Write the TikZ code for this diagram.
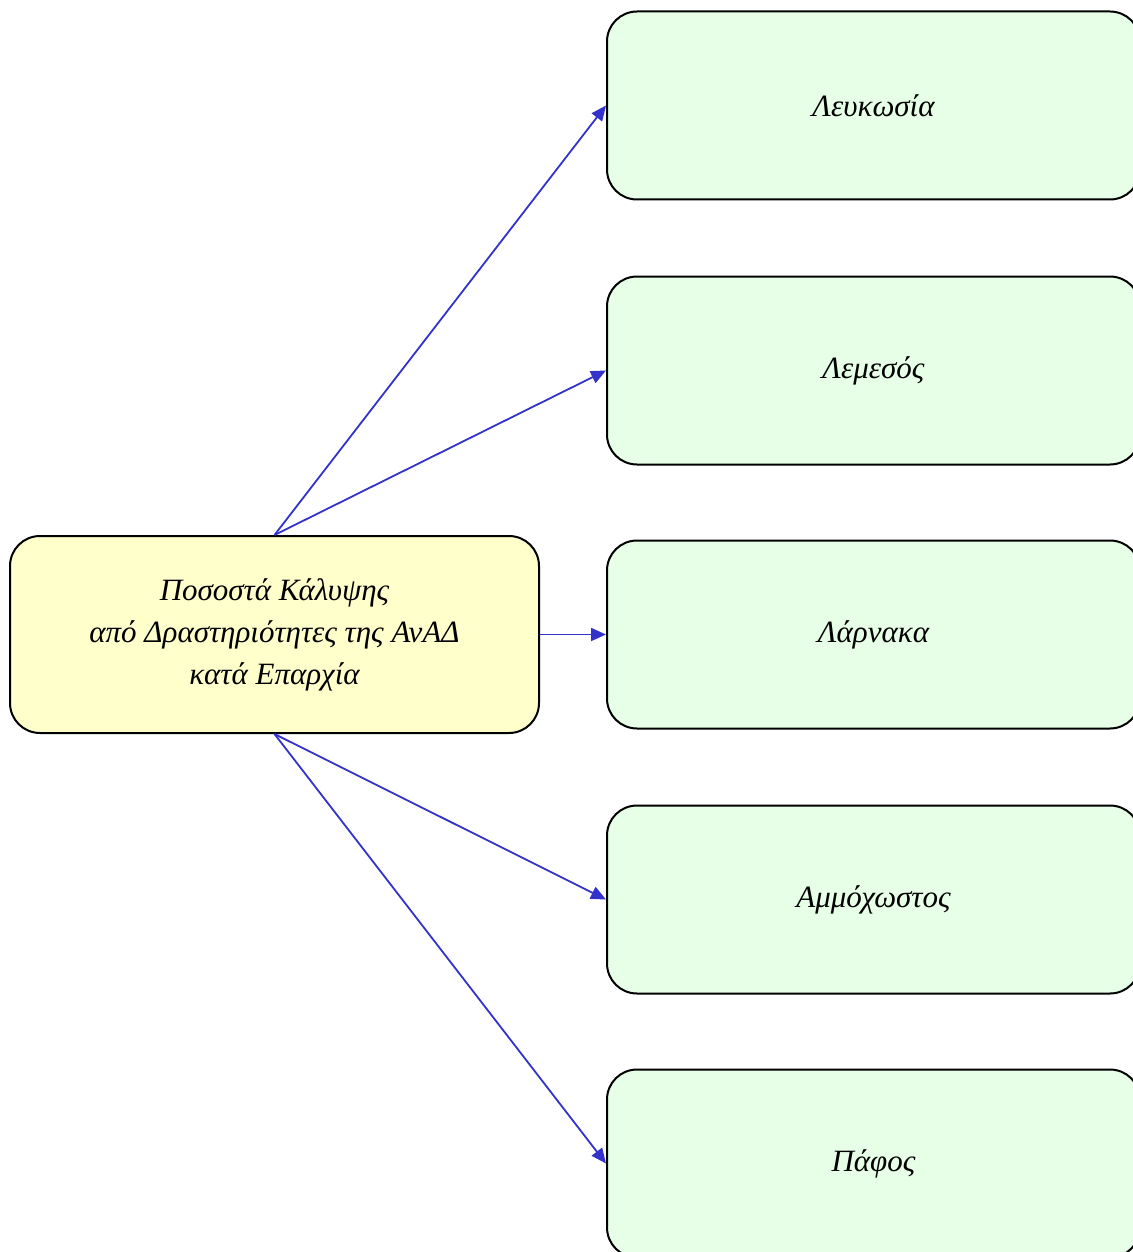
\documentclass[tikz,border=0pt]{standalone}
\usepackage{fontspec}
\setmainfont{Liberation Serif}
\usetikzlibrary{arrows.meta}
\definecolor{mainfill}{HTML}{FFFFCC}
\definecolor{subfill}{HTML}{E6FFE6}
\definecolor{arrowblue}{HTML}{3333CC}
\tikzset{
  box/.style={draw=black, line width=2pt, rounded corners=30pt, inner sep=0pt, align=center,
    font=\fontsize{31}{42}\selectfont\itshape},
  mainbox/.style={box, fill=mainfill, minimum width=529pt, minimum height=197pt},
  subbox/.style={box, fill=subfill, minimum width=533pt, minimum height=188pt},
  link/.style={draw=arrowblue, line width=1.8pt, -{Triangle[length=15pt,width=13pt]}}
}
\begin{document}
\begin{tikzpicture}[x=1pt,y=-1pt]
\useasboundingbox (0,0) rectangle (1132,1252);
\node[mainbox] (m) at (274.5,634.5) {Ποσοστά Κάλυψης\\από Δραστηριότητες της ΑνΑΔ\\κατά Επαρχία};
\node[subbox] (b1) at (873.5,105.5) {Λευκωσία};
\node[subbox] (b2) at (873.5,370.5) {Λεμεσός};
\node[subbox] (b3) at (873.5,634.5) {Λάρνακα};
\node[subbox] (b4) at (873.5,899.5) {Αμμόχωστος};
\node[subbox] (b5) at (873.5,1163.5) {Πάφος};
\draw[link] (m.north) -- (b1.west);
\draw[link] (m.north) -- (b2.west);
\draw[link] (m.east) -- (b3.west);
\draw[link] (m.south) -- (b4.west);
\draw[link] (m.south) -- (b5.west);
\end{tikzpicture}
\end{document}
